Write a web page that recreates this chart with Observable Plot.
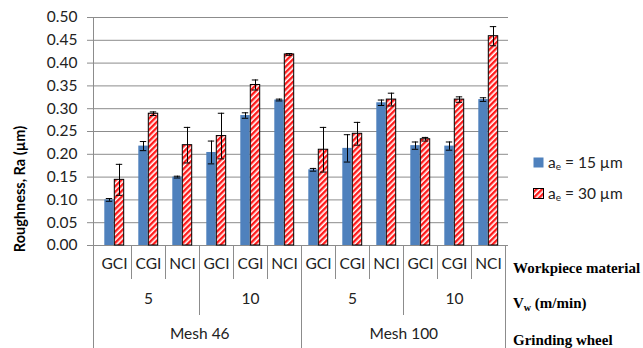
<!DOCTYPE html>
<html><head><meta charset="utf-8">
<script src="https://cdn.jsdelivr.net/npm/d3@7"></script>
<script src="https://cdn.jsdelivr.net/npm/@observablehq/plot@0.6"></script>
<style>body{margin:0;background:#fff} svg{display:block}</style>
</head><body><div id="chart"></div>
<script>
// ---- data ----
const meshes = ["Mesh 46", "Mesh 100"];
const speeds = ["5", "10"];
const materials = ["GCI", "CGI", "NCI"];
const seriesNames = ["15", "30"];
const blue    = [0.100, 0.218, 0.150, 0.204, 0.285, 0.319, 0.166, 0.213, 0.313, 0.219, 0.218, 0.320];
const blueErr = [0.003, 0.010, 0.002, 0.025, 0.006, 0.002, 0.003, 0.030, 0.006, 0.008, 0.009, 0.004];
const red     = [0.144, 0.289, 0.220, 0.240, 0.352, 0.419, 0.210, 0.245, 0.320, 0.233, 0.320, 0.459];
const redErr  = [0.034, 0.004, 0.039, 0.050, 0.011, 0.002, 0.049, 0.025, 0.014, 0.004, 0.006, 0.021];
const yTicks  = [0, 0.05, 0.10, 0.15, 0.20, 0.25, 0.30, 0.35, 0.40, 0.45, 0.50];

const rows = [];
meshes.forEach(m => speeds.forEach(s => materials.forEach(mat => {
  const i = rows.length;
  rows.push({key: `${m}|${s}|${mat}`, mesh: m, speed: s, material: mat,
    blue: blue[i], blueErr: blueErr[i], red: red[i], redErr: redErr[i]});
})));
const keys = rows.map(d => d.key);

// ---- layout ----
const W = 643, H = 348, mL = 93, mR = 135, mT = 17, mB = 103;
const bw = (W - mL - mR) / keys.length;
const outer = 7.3, barW = 10, cap = 7;
const bC = outer + barW / 2, rC = outer + barW * 1.5;
const grid = "#8c8c8c", ink = "#000";

const chart = Plot.plot({
  width: W, height: H,
  marginLeft: mL, marginRight: mR, marginTop: mT, marginBottom: mB,
  style: {fontFamily: "Lato, 'Open Sans', sans-serif", background: "white", color: ink},
  x: {domain: keys, padding: 0, axis: null},
  y: {domain: [0, 0.5], axis: null},
  marks: [
    Plot.ruleY(yTicks, {stroke: grid, strokeWidth: 1, insetLeft: -6}),
    Plot.barY(rows, {x: "key", y: "blue", fill: "#4F81BD", insetLeft: outer, insetRight: bw - outer - barW}),
    Plot.barY(rows, {x: "key", y: "red", fill: "url(#hatch)", stroke: "#000", strokeWidth: 1,
      insetLeft: outer + barW, insetRight: outer}),
    // error bars
    Plot.ruleX(rows, {x: "key", y1: d => d.blue - d.blueErr, y2: d => d.blue + d.blueErr, dx: bC - bw / 2, stroke: "#000"}),
    Plot.tickY(rows, {x: "key", y: d => d.blue - d.blueErr, stroke: "#000", insetLeft: bC - cap / 2, insetRight: bw - bC - cap / 2}),
    Plot.tickY(rows, {x: "key", y: d => d.blue + d.blueErr, stroke: "#000", insetLeft: bC - cap / 2, insetRight: bw - bC - cap / 2}),
    Plot.ruleX(rows, {x: "key", y1: d => d.red - d.redErr, y2: d => d.red + d.redErr, dx: rC - bw / 2, stroke: "#000"}),
    Plot.tickY(rows, {x: "key", y: d => d.red - d.redErr, stroke: "#000", insetLeft: rC - cap / 2, insetRight: bw - rC - cap / 2}),
    Plot.tickY(rows, {x: "key", y: d => d.red + d.redErr, stroke: "#000", insetLeft: rC - cap / 2, insetRight: bw - rC - cap / 2}),
    // y axis labels
    Plot.text(yTicks, {y: d => d, text: d => d3.format(".2f")(d), frameAnchor: "left", textAnchor: "end", dx: -16, fontSize: 15.5, fill: "#222"}),
    // category rows
    Plot.text(rows, {x: "key", text: "material", frameAnchor: "bottom", dy: 23, fontSize: 15.5, fill: "#222"}),
    Plot.text(rows.filter(d => d.material === "CGI"), {x: "key", text: "speed", frameAnchor: "bottom", dy: 58, fontSize: 15.5, fill: "#222"}),
    Plot.text(rows.filter(d => d.speed === "5" && d.material === "NCI"), {x: "key", text: "mesh", frameAnchor: "bottom", dx: bw / 2, dy: 93, fontSize: 15.5, fill: "#222"})
  ]
});

const svg = d3.select(chart);
const defs = svg.insert("defs", ":first-child");
const pat = defs.append("pattern").attr("id", "hatch").attr("patternUnits", "userSpaceOnUse")
  .attr("width", 4).attr("height", 4).attr("patternTransform", "rotate(45)");
pat.append("rect").attr("width", 4).attr("height", 4).attr("fill", "#fff");
pat.append("rect").attr("width", 2.4).attr("height", 4).attr("fill", "#ff1a1a");

const xs = chart.scale("x"), ys = chart.scale("y");
const band = xs.bandwidth;
const y0 = ys.apply(0), yTop = ys.apply(0.5);
const sep = svg.append("g").attr("stroke", grid).attr("stroke-width", 1);
// left value axis line
sep.append("line").attr("x1", mL + 0.5).attr("x2", mL + 0.5).attr("y1", yTop).attr("y2", H);
keys.forEach((k, i) => {
  if (i === 0) return;
  const x = Math.round(xs.apply(k)) + 0.5;
  const yEnd = (i % 6 === 0) ? H : (i % 3 === 0 ? y0 + 70 : y0 + 34);
  sep.append("line").attr("x1", x).attr("x2", x).attr("y1", y0).attr("y2", yEnd);
});
const xr = Math.round(xs.apply(keys[keys.length - 1]) + band) + 0.5;
sep.append("line").attr("x1", xr).attr("x2", xr).attr("y1", y0).attr("y2", H);

// y axis title
svg.append("text").attr("transform", `translate(21,${189}) rotate(-90)`)
  .attr("text-anchor", "middle").attr("dominant-baseline", "middle")
  .attr("font-family", "Lato, sans-serif").attr("font-weight", "bold").attr("font-size", 14.5)
  .attr("fill", ink).text("Roughness, Ra (µm)");

// right side labels
const serif = "'Liberation Serif', 'DejaVu Serif', serif";
const rl = svg.append("g").attr("font-family", serif).attr("font-weight", "bold").attr("font-size", 15)
  .attr("fill", ink).attr("text-anchor", "start");
rl.append("text").attr("x", 513).attr("y", 273).text("Workpiece material");
const vw = rl.append("text").attr("x", 513).attr("y", 308);
vw.append("tspan").text("V");
vw.append("tspan").attr("font-size", 10).attr("dy", 3).text("w");
vw.append("tspan").attr("dy", -3).text(" (m/min)");
rl.append("text").attr("x", 513).attr("y", 345).text("Grinding wheel");

// legend
const lg = svg.append("g").attr("font-family", "Lato, sans-serif").attr("font-size", 15.5)
  .attr("fill", "#222").attr("text-anchor", "start");
const items = [{fill: "#4F81BD", stroke: "none", y: 157, name: seriesNames[0]},
               {fill: "url(#hatch)", stroke: "#000", y: 188, name: seriesNames[1]}];
items.forEach(it => {
  lg.append("rect").attr("x", 533.5).attr("y", it.y + 0.5).attr("width", 10).attr("height", 10)
    .attr("fill", it.fill).attr("stroke", it.stroke);
  const t = lg.append("text").attr("x", 548).attr("y", it.y + 11);
  t.append("tspan").text("a");
  t.append("tspan").attr("font-size", 10).attr("dy", 2).text("e");
  t.append("tspan").attr("dy", -2).text(` = ${it.name} µm`);
});

document.getElementById("chart").appendChild(chart);
</script>
</body></html>
